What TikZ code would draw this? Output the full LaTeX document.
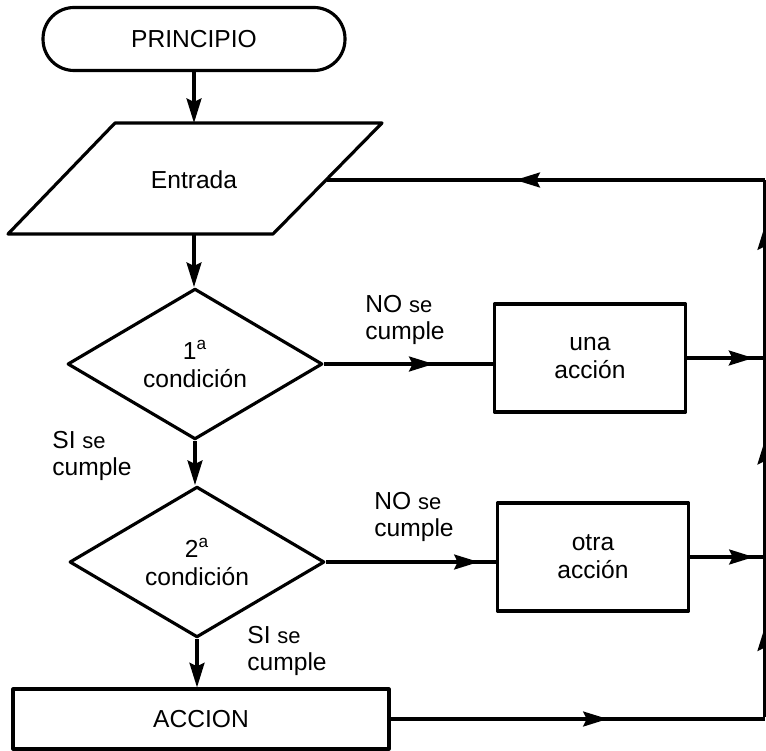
\documentclass[tikz,border=0pt]{standalone}
\usepackage{fontspec}
\setmainfont{Liberation Sans}
\usetikzlibrary{shapes.geometric,arrows.meta,decorations.markings}

\newcommand\peq[1]{{\fontsize{12.5}{12}\selectfont #1}}

\tikzset{
    punta/.tip={Stealth[length=14pt,width=8.5pt,inset=2pt]},
    flecha/.style={-punta},
    midflecha/.style={postaction={decorate}, decoration={markings, mark=at position #1 with {\arrow{punta}}}},
    texto/.style={font=\fontsize{14}{16}\selectfont, align=center},
    etiqueta/.style={font=\fontsize{14}{15}\selectfont, align=left, inner sep=0pt},
    terminal/.style={draw, rounded corners=0.62cm, minimum width=6.04cm, minimum height=1.26cm, texto},
    decision/.style={draw, diamond, minimum width=5.1cm, minimum height=2.92cm, inner sep=0pt, texto},
    proceso/.style={draw, rectangle, minimum width=3.83cm, minimum height=2.16cm, texto},
}

\begin{document}
\begin{tikzpicture}[x=0.02cm, y=-0.02cm, line width=1.8pt, line join=round]
    \clip (0,0) rectangle (766,750);
    \fill[white] (0,0) rectangle (766,750);

    % bloques
    \node[terminal] (principio) at (194,39) {PRINCIPIO};
    \draw (115,123) -- (382,123) -- (273,234) -- (8,234) -- cycle;
    \node[texto] (entrada) at (194,180) {Entrada};
    \coordinate (ent-top) at (194,123);
    \coordinate (ent-bot) at (194,234);
    \coordinate (ent-der) at (327,180);
    \node[decision] (cond1) at (195,364) {1\textsuperscript{a}\\condición};
    \node[decision] (cond2) at (197,562) {2\textsuperscript{a}\\condición};
    \node[proceso] (una) at (590,358) {una\\acción};
    \node[proceso] (otra) at (593,557) {otra\\acción};
    \node[draw, minimum width=7.52cm, minimum height=1.2cm, texto] (accion) at (201,719) {ACCION};

    % etiquetas
    \node[etiqueta] (no1) at (405,320) {NO \peq{se}\\cumple};
    \node[etiqueta] (si1) at (92,456) {SI \peq{se}\\cumple};
    \node[etiqueta] (no2) at (414,517) {NO \peq{se}\\cumple};
    \node[etiqueta] (si2) at (287,651) {SI \peq{se}\\cumple};

    % linea de retorno
    \coordinate (r-ent) at (765,180);
    \coordinate (r-una) at (765,361);
    \coordinate (r-otra) at (765,558);
    \coordinate (r-acc) at (765,717);

    % conexiones
    \draw[flecha] (principio) -- (ent-top);
    \draw[flecha] (ent-bot) -- (ent-bot |- cond1.north);
    \draw[flecha] (cond1.south) -- (cond1.south |- cond2.north);
    \draw[flecha] (cond2.south) -- (cond2.south |- accion.north);
    \draw[midflecha=0.65] (cond1.east) -- (cond1.east -| una.west);
    \draw[midflecha=0.9] (cond2.east) -- (cond2.east -| otra.west);
    \draw[midflecha=0.85] (una.east) -- (una.east -| r-una);
    \draw[midflecha=0.85] (otra.east) -- (otra.east -| r-otra);
    \draw[midflecha=0.58] (accion.east) -- (accion.east -| r-acc);
    \draw[midflecha=0.57] (r-acc) -- (r-otra);
    \draw[midflecha=0.6] (r-otra) -- (r-una);
    \draw[midflecha=0.75] (r-una) -- (r-ent);
    \draw[midflecha=0.57] (r-ent) -- (ent-der);
\end{tikzpicture}
\end{document}
